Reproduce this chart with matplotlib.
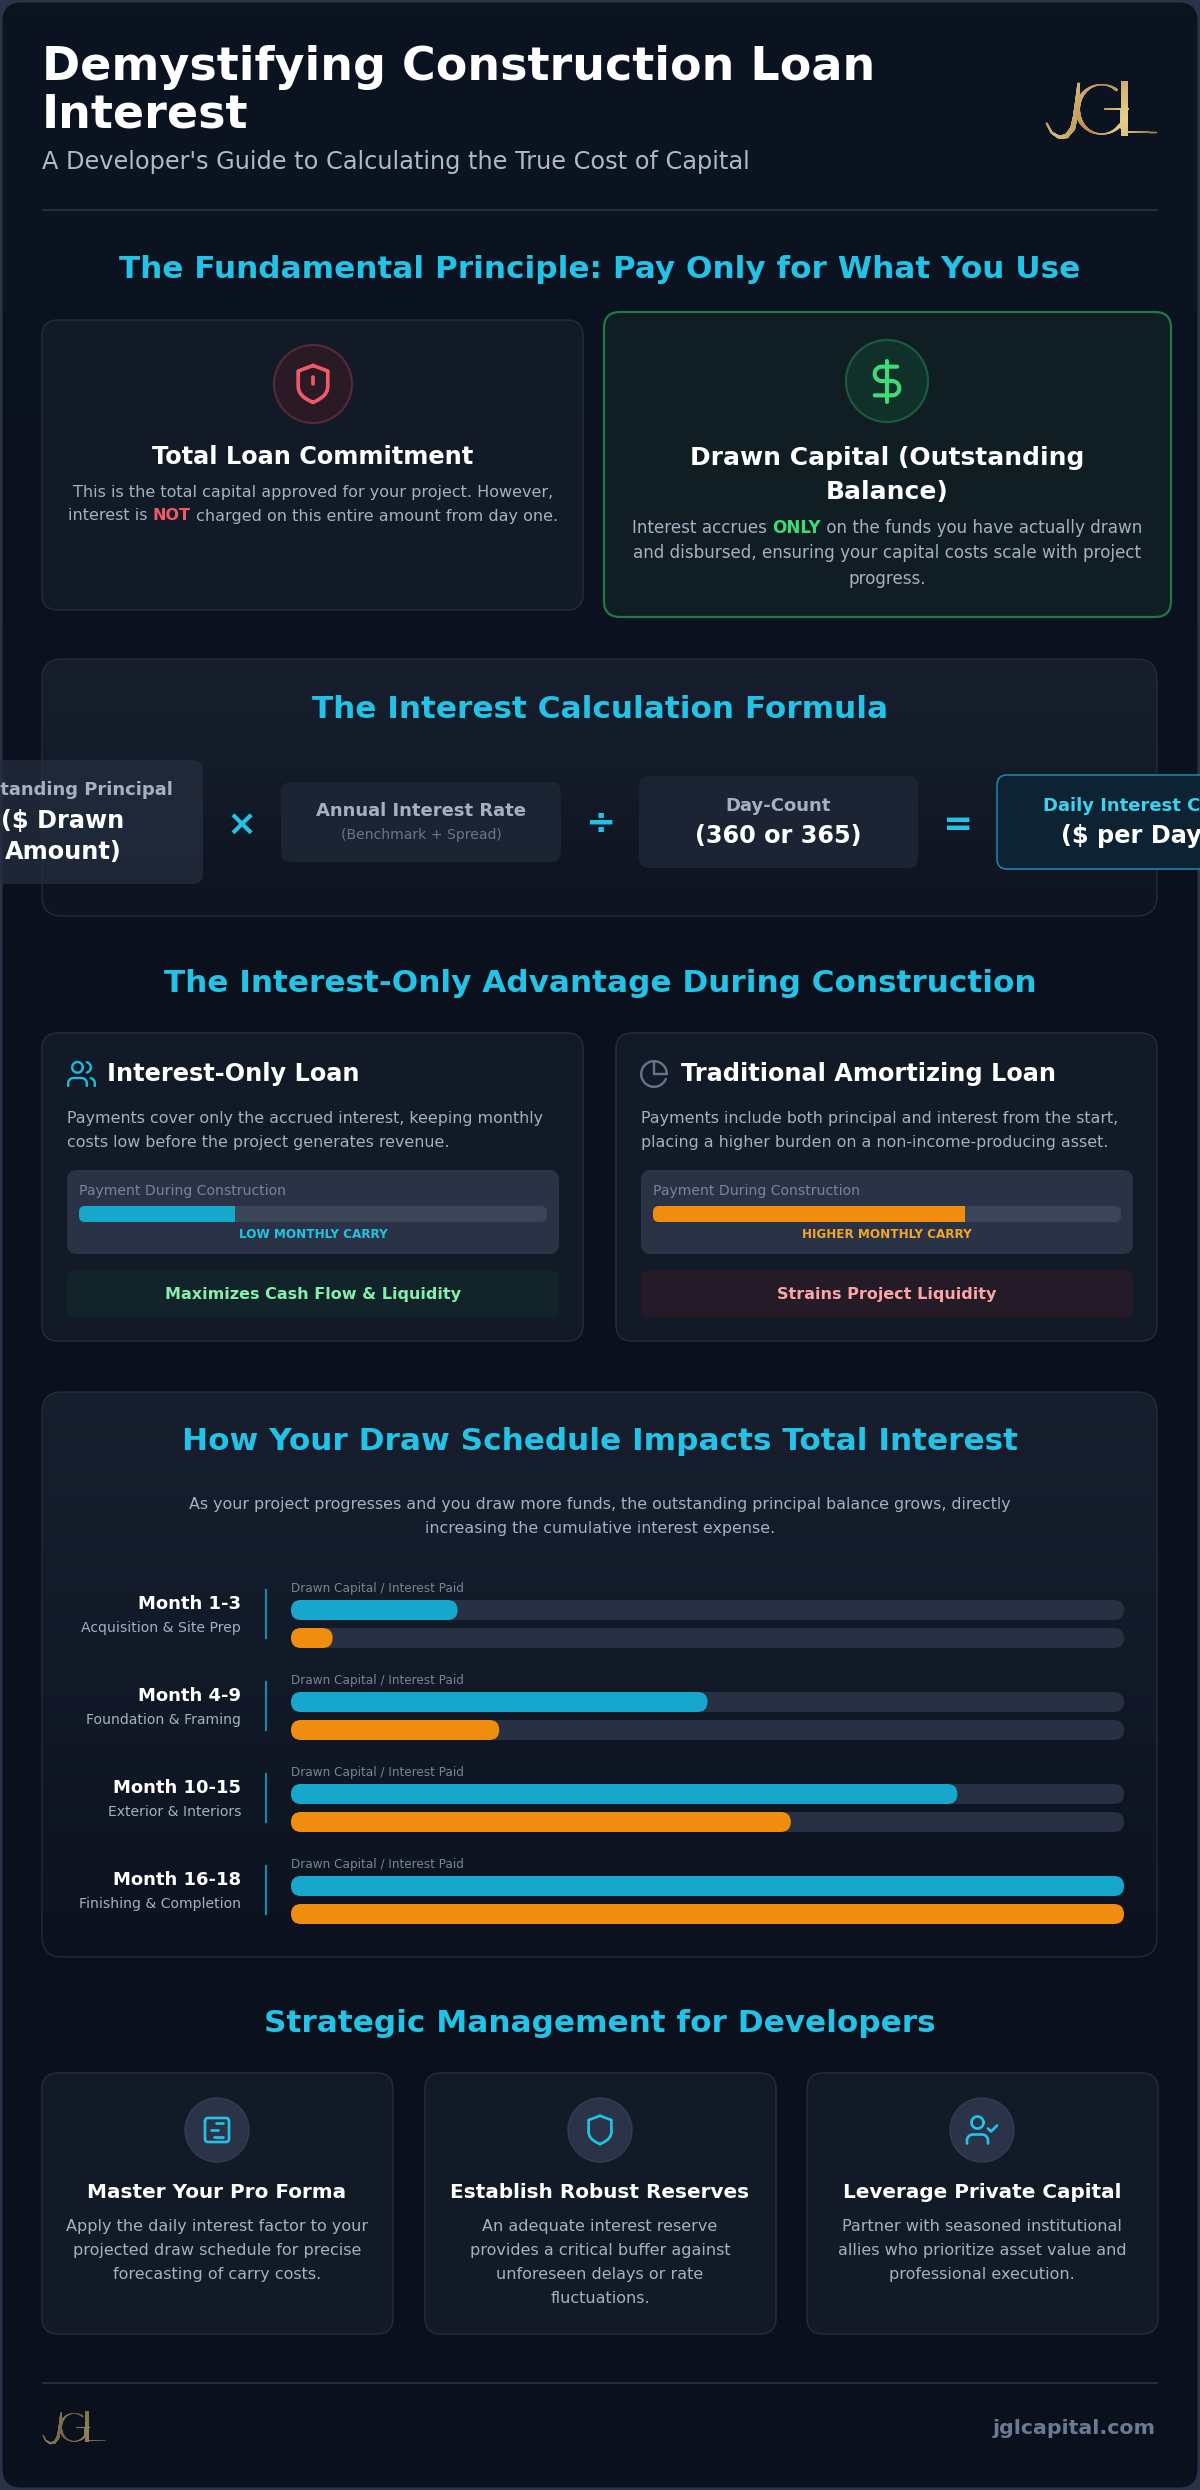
import numpy as np
import matplotlib
matplotlib.use("Agg")
from matplotlib import pyplot as plt
from matplotlib.patches import FancyBboxPatch, Circle, Rectangle
from matplotlib.collections import LineCollection
from matplotlib.colors import LinearSegmentedColormap, to_rgb

W, H = 1200, 2490

# draw schedule, percent of the full bar
phase_names = ["Month 1-3", "Month 4-9", "Month 10-15", "Month 16-18"]
phase_subs = ["Acquisition & Site Prep", "Foundation & Framing", "Exterior & Interiors", "Finishing & Completion"]
drawn_capital = [20, 50, 80, 100]
interest_paid = [5, 25, 60, 100]

# payment bars in the loan cards
payment_share = [33.3, 66.7]
payment_labels = ["LOW MONTHLY CARRY", "HIGHER MONTHLY CARRY"]
loan_titles = ["Interest-Only Loan", "Traditional Amortizing Loan"]
loan_notes = ["Maximizes Cash Flow & Liquidity", "Strains Project Liquidity"]

CYAN = "#22c3e6"
BAR_CYAN = "#16a8cc"
ORANGE = "#f08c0e"
GREY = "#a6b0c2"
DIM = "#7a8497"
WHITE = "#ffffff"
HEAD = 31.2

fig = plt.figure(figsize=(W / 100, H / 100), dpi=100, facecolor="#2a3347")
ax = fig.add_axes([0, 0, 1, 1])
ax.set_xlim(0, W)
ax.set_ylim(H, 0)
ax.axis("off")


def txt(x, y, s, px, color=WHITE, weight="normal", ha="center", z=6):
    return ax.text(x, y - 1, s, fontsize=px * 0.72, color=color, fontweight=weight,
                   ha=ha, va="center_baseline", zorder=z, family="DejaVu Sans")


def box(x0, y0, x1, y1, r, fc, ec="none", lw=1.0, z=2, alpha=None):
    p = FancyBboxPatch((x0, y0), x1 - x0, y1 - y0, boxstyle=f"round,pad=0,rounding_size={r}",
                       fc=fc, ec=ec, lw=lw * 0.72, zorder=z, alpha=alpha)
    ax.add_patch(p)
    return p


def gradient_box(x0, y0, x1, y1, r, top, bottom, ec, lw=1.0, z=2):
    cmap = LinearSegmentedColormap.from_list("g", [top, bottom])
    im = ax.imshow(np.linspace(0, 1, 256).reshape(-1, 1), cmap=cmap, aspect="auto",
                   extent=(x0, x1, y1, y0), zorder=z)
    clip = box(x0, y0, x1, y1, r, "none", ec, lw, z + 0.1)
    im.set_clip_path(clip)
    ax.set_xlim(0, W)
    ax.set_ylim(H, 0)


def rich_line(cx, y, parts, px, z=6):
    # coloured words inside one centred line
    r = fig.canvas.get_renderer()
    items = []
    for s, color, weight in parts:
        t = txt(0, y, s, px, color, weight, "left", z)
        items.append(t)
    widths = []
    for t, (s, _, _) in zip(items, parts):
        t.set_text(s.replace(" ", "\u00a0"))
        widths.append(t.get_window_extent(r).width)
    x = cx - sum(widths) / 2
    for t, w in zip(items, widths):
        t.set_x(x)
        x += w


def arc(cx, cy, r, a0, a1, n=40):
    a = np.radians(np.linspace(a0, a1, n))
    return np.column_stack([cx + r * np.cos(a), cy + r * np.sin(a)])


def icon(lines, cx, cy, scale, color, lw=None, z=6):
    for pts in lines:
        pts = np.asarray(pts, float)
        ax.plot(cx + (pts[:, 0] - 12) * scale, cy + (pts[:, 1] - 12) * scale, color=color,
                lw=(lw or 2 * scale) * 0.72, solid_capstyle="round", solid_joinstyle="round", zorder=z)


def shield_pts():
    t = np.linspace(0, 1, 20)[:, None]
    right = (1 - t) ** 3 * [20, 13] + 3 * (1 - t) ** 2 * t * [20, 18] + 3 * (1 - t) * t ** 2 * [16, 20] + t ** 3 * [12, 22]
    left = right[::-1] * [-1, 1] + [24, 0]
    return np.vstack([[[12, 2], [20, 5]], right, left, [[4, 5], [12, 2]]])


USER = [np.vstack([[[16, 21], [16, 19]], arc(12, 19, 4, 0, -90), arc(6, 19, 4, -90, -180), [[2, 21]]]),
        arc(9, 7, 4, 0, 360)]
USERS = USER + [np.vstack([[[22, 21], [22, 19]], arc(18, 19, 4, 0, -75)]), arc(15, 7, 4, -75, 75)]
USER_CHECK = USER + [[[16, 11], [18, 13], [22, 9]]]
PIE = [arc(12, 12, 10, 23, 277, 60), [[22, 12], *arc(12, 12, 10, 0, -90), [12, 12], [22, 12]]]
DOLLAR = [[[12, 2], [12, 22]],
          np.vstack([[[17, 5]], arc(9.5, 8.5, 3.5, -90, -270), arc(14.5, 15.5, 3.5, -90, 90), [[6, 19]]])]
SHEET = [np.vstack([arc(6, 6, 2, 180, 270, 8), arc(18, 6, 2, -90, 0, 8), arc(18, 18, 2, 0, 90, 8),
                    arc(6, 18, 2, 90, 180, 8), [[4, 6]]]),
         [[11, 7.5], [16, 7.5]], [[8, 12], [12.5, 12]], [[10, 16.5], [16, 16.5]]]


def logo(x0, y0, s, fade=1.0, z=6):
    # coordinates in the 3x crop of the header logo, stroke widths vary along each line
    j = np.array([[176, 72], [172, 120], [166, 170], [158, 205], [140, 228], [118, 232], [95, 218], [80, 190]], float)
    j_w = np.array([8, 12, 14, 14, 12, 9, 6, 5], float)
    ang = np.radians(np.linspace(-52, -320, 50))
    g = np.column_stack([245 + 72 * np.cos(ang), 148 + 74 * np.sin(ang)])
    g_w = 4 + 10 * np.abs(np.cos(ang)) ** 2
    strokes = [(j, j_w), (g, g_w),
               (np.array([[303, 150], [303, 200]], float), np.array([8, 8.0])),
               (np.array([[255, 148], [325, 148]], float), np.array([6, 6.0])),
               (np.array([[311, 72], [311, 216]], float), np.array([21, 21.0])),
               (np.array([[322, 215], [408, 215]], float), np.array([6, 4.0]))]
    cmap = LinearSegmentedColormap.from_list("gold", ["#a87c3c", "#d9bb7c", "#b48a4a", "#e8cf8c", "#a2804a"])
    bg = np.array(to_rgb("#0c111e"))
    f = s / 3
    for pts, widths in strokes:
        u = np.linspace(0, len(pts) - 1, 150)
        idx = np.arange(len(pts))
        fine = np.column_stack([np.interp(u, idx, pts[:, 0]), np.interp(u, idx, pts[:, 1])])
        seg = np.stack([fine[:-1], fine[1:]], axis=1)
        c = cmap(np.clip((seg[:, 0, 0] + seg[:, 0, 1] * 0.4 - 100) / 380, 0, 1))
        c[:, :3] = c[:, :3] * fade + bg * (1 - fade)
        ax.add_collection(LineCollection(seg * f + [x0, y0], colors=c, linewidths=np.interp(u[:-1], idx, widths) * f * 0.72,
                                         capstyle="projecting", zorder=z), autolim=False)


# page
page_cmap = LinearSegmentedColormap.from_list("page", ["#0c1321", "#0b101d", "#0c111e"])
im = ax.imshow(np.linspace(0, 1, 256).reshape(-1, 1), cmap=page_cmap, aspect="auto", extent=(1.5, W - 1.5, H - 1.5, 1.5), zorder=0)
im.set_clip_path(box(1.5, 1.5, W - 1.5, H - 1.5, 20, "none", "#2a3347", 2, 1))
ax.set_xlim(0, W)
ax.set_ylim(H, 0)

# header
txt(42, 64, "Demystifying Construction Loan", 46, WHITE, "bold", "left")
txt(42, 111, "Interest", 46, WHITE, "bold", "left")
txt(42, 161, "A Developer's Guide to Calculating the True Cost of Capital", 24, "#b0b9c9", ha="left")
logo(1020, 60, 1.0)
ax.plot([43, 1157], [210, 210], color="#262f40", lw=1.4, zorder=2)

# principle cards
txt(600, 267, "The Fundamental Principle: Pay Only for What You Use", HEAD, CYAN, "bold")
box(42, 320, 583, 610, 16, "#121927", "#252d3d", 1.4)
box(604, 312, 1171, 617, 16, "#101e24", "#1f7a45", 2.2)
ax.add_patch(Circle((313, 384), 39, fc="#291a26", ec="#55283a", lw=1.6, zorder=3))
ax.add_patch(Circle((887, 381), 41, fc="#10302a", ec="#1c5a3c", lw=1.6, zorder=3))
icon([shield_pts(), [[12, 8], [12, 12]], [[12, 16], [12, 16.05]]], 313, 384, 1.85, "#f05a66")
icon(DOLLAR, 887, 381, 2.05, "#3ddc78")
txt(313, 455, "Total Loan Commitment", 24, WHITE, "bold")
txt(313, 492, "This is the total capital approved for your project. However,", 16, GREY)
rich_line(313, 515.5, [("interest is ", GREY, "normal"), ("NOT", "#f05a66", "bold"),
                       (" charged on this entire amount from day one.", GREY, "normal")], 16)
txt(887, 456, "Drawn Capital (Outstanding", 25, WHITE, "bold")
txt(887, 491, "Balance)", 25, WHITE, "bold")
rich_line(887, 527, [("Interest accrues ", GREY, "normal"), ("ONLY", "#3ddc78", "bold"),
                     (" on the funds you have actually drawn", GREY, "normal")], 16.8)
txt(887, 552, "and disbursed, ensuring your capital costs scale with project", 16.8, GREY)
txt(887, 578, "progress.", 16.8, GREY)

# formula
gradient_box(42, 659, 1157, 916, 20, "#171f2e", "#0e1421", "#232c3c", 1.4)
txt(600, 708, "The Interest Calculation Formula", HEAD, CYAN, "bold")
box(-77, 760, 203, 884, 10, "#252e3f", z=3, alpha=0.75)
box(281, 782, 561, 862, 10, "#1c2433", z=3)
box(639, 776, 918, 868, 10, "#1c2433", z=3)
box(997, 775, 1277, 869, 10, "#0d2233", "#1d86a6", 1.6, z=3)
txt(63, 789, "Outstanding Principal", 18, GREY, "bold")
txt(63, 820, "($ Drawn", 24, WHITE, "bold")
txt(63, 851, "Amount)", 24, WHITE, "bold")
txt(421, 810.5, "Annual Interest Rate", 18, GREY, "bold")
txt(421, 835, "(Benchmark + Spread)", 14, "#6b7587")
txt(778, 805, "Day-Count", 18, GREY, "bold")
txt(778, 835, "(360 or 365)", 24, WHITE, "bold")
txt(1137, 805, "Daily Interest Cost", 18, "#3fd0ee", "bold")
txt(1137, 835, "($ per Day)", 24, WHITE, "bold")
for x, op in zip([242, 600, 957], ["×", "÷", "="]):
    txt(x, 822, op, 36, CYAN, "bold")

# loan comparison
txt(600, 981.5, "The Interest-Only Advantage During Construction", HEAD, CYAN, "bold")
card_x = [42, 616]
desc_lines = [["Payments cover only the accrued interest, keeping monthly",
               "costs low before the project generates revenue."],
              ["Payments include both principal and interest from the start,",
               "placing a higher burden on a non-income-producing asset."]]
fills = [BAR_CYAN, ORANGE]
label_colors = [CYAN, "#f5a623"]
note_colors = ["#86efac", "#fca5a5"]
note_fills = ["#12232a", "#241a28"]
for i, x in enumerate(card_x):
    box(x, 1033, x + 541, 1341, 16, "#121927", "#252d3d", 1.4)
    txt(x + 65, 1073, loan_titles[i], 24, WHITE, "bold", "left")
    for k, line in enumerate(desc_lines[i]):
        txt(x + 25, 1118 + k * 24, line, 15.9, GREY, ha="left")
    box(x + 25, 1170, x + 517, 1254, 10, "#2a3346", z=3)
    txt(x + 37, 1191, "Payment During Construction", 14, DIM, ha="left")
    # payment bar, value axis 0-100
    bar_ax = fig.add_axes([(x + 37) / W, 1 - 1222 / H, 468 / W, 16 / H], zorder=5)
    bar_ax.set_xlim(0, 100)
    bar_ax.set_ylim(0, 16)
    bar_ax.axis("off")
    k = 100 / 468
    bar_ax.add_patch(FancyBboxPatch((0, 0), 100, 16, boxstyle=f"round,pad=0,rounding_size={6 * k}",
                                    mutation_aspect=1 / k, fc="#3a4558", ec="none"))
    v = payment_share[i]
    bar_ax.add_patch(FancyBboxPatch((0, 0), v + 3, 16, boxstyle=f"round,pad=0,rounding_size={6 * k}",
                                    mutation_aspect=1 / k, fc=fills[i], ec="none"))
    bar_ax.add_patch(Rectangle((v, 0), 3.2, 16, fc="#3a4558", ec="none"))
    txt(x + 271, 1234, payment_labels[i], 12, label_colors[i], "bold")
    box(x + 25, 1270, x + 517, 1318, 8, note_fills[i], z=3)
    txt(x + 271, 1294, loan_notes[i], 16, note_colors[i], "bold")
icon(USERS, 81.5, 1074, 1.33, "#22b8d8", 2.4)
icon(PIE, 654, 1074, 1.28, "#64748b", 2.4)

# draw schedule
gradient_box(42, 1392, 1157, 1957, 20, "#171f2e", "#0c1220", "#232c3c", 1.4)
txt(600, 1440, "How Your Draw Schedule Impacts Total Interest", HEAD, CYAN, "bold")
txt(600, 1503.5, "As your project progresses and you draw more funds, the outstanding principal balance grows, directly", 15.9, GREY)
txt(600, 1528, "increasing the cumulative interest expense.", 15.9, GREY)

TRACK_W = 833
sched_ax = fig.add_axes([291 / W, 1 - 1930 / H, TRACK_W / W, 340 / H], zorder=5)
sched_ax.set_xlim(0, 100)
sched_ax.set_ylim(1930, 1590)
sched_ax.axis("off")
k = 100 / TRACK_W


def sched_bar(value, y, color):
    sched_ax.add_patch(FancyBboxPatch((0, y), value, 20, boxstyle=f"round,pad=0,rounding_size={10 * k}",
                                      mutation_aspect=1 / k, fc=color, ec="none"))


for i, name in enumerate(phase_names):
    y = 1600 + i * 92
    txt(241, y + 3, name, 18, WHITE, "bold", "right")
    txt(241, y + 27.5, phase_subs[i], 14, GREY, ha="right")
    ax.plot([265.5, 265.5], [y - 10, y + 37.5], color="#1a87a6", lw=1.6, zorder=4)
    txt(291, y - 12, "Drawn Capital / Interest Paid", 12, DIM, ha="left")
    sched_bar(100, y, "#283144")
    sched_bar(100, y + 28, "#283144")
    sched_bar(drawn_capital[i], y, BAR_CYAN)
    sched_bar(interest_paid[i], y + 28, ORANGE)

# strategic cards
txt(600, 2022, "Strategic Management for Developers", HEAD, CYAN, "bold")
strat_x = [42, 425, 807]
strat_titles = ["Master Your Pro Forma", "Establish Robust Reserves", "Leverage Private Capital"]
strat_text = [["Apply the daily interest factor to your", "projected draw schedule for precise", "forecasting of carry costs."],
              ["An adequate interest reserve", "provides a critical buffer against", "unforeseen delays or rate", "fluctuations."],
              ["Partner with seasoned institutional", "allies who prioritize asset value and", "professional execution."]]
strat_icons = [(SHEET, 1.5), ([shield_pts()], 1.42), (USER_CHECK, 1.5)]
for i, x in enumerate(strat_x):
    cx = x + 175
    box(x, 2073, x + 351, 2334, 16, "#121927", "#252d3d", 1.4)
    ax.add_patch(Circle((cx, 2130), 32, fc="#2a3347", ec="#333d52", lw=1, zorder=3))
    pts, sc = strat_icons[i]
    icon(pts, cx, 2130, sc, CYAN, 2.7)
    txt(cx, 2192, strat_titles[i], 20, WHITE, "bold")
    for n, line in enumerate(strat_text[i]):
        txt(cx, 2226 + n * 24, line, 16, GREY)

# footer
ax.plot([43, 1157], [2383, 2383], color="#262f40", lw=1.4, zorder=2)
logo(43 - 80 * 0.189, 2413 - 72 * 0.189, 0.567, fade=0.6)
txt(1156, 2427, "jglcapital.com", 20.5, "#6b7a94", "bold", "right")

plt.savefig("out.png", dpi=100, facecolor=fig.get_facecolor())
plt.close(fig)
